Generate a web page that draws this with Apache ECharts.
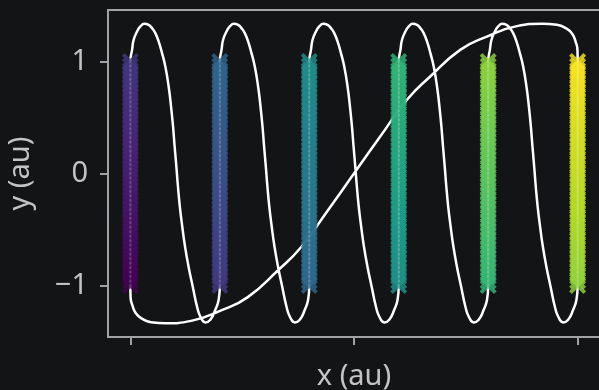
<!DOCTYPE html>
<html>
<head>
<meta charset="utf-8">
<script src="https://cdn.jsdelivr.net/npm/echarts@6/dist/echarts.min.js"></script>
<style>
  html, body { margin: 0; background: #131416; }
  #chart { width: 599px; height: 390px; }
</style>
</head>
<body>
<div id="chart"></div>
<script>
// columns of x markers
const columnX = [0, 1, 2, 3, 4, 5];
const markerY = [
  -1, -0.96, -0.92, -0.88, -0.84, -0.8, -0.76, -0.72, -0.68, -0.64,
  -0.6, -0.56, -0.52, -0.48, -0.44, -0.4, -0.36, -0.32, -0.28, -0.24,
  -0.2, -0.16, -0.12, -0.08, -0.04, 0, 0.04, 0.08, 0.12, 0.16,
  0.2, 0.24, 0.28, 0.32, 0.36, 0.4, 0.44, 0.48, 0.52, 0.56,
  0.6, 0.64, 0.68, 0.72, 0.76, 0.8, 0.84, 0.88, 0.92, 0.96, 1
];

// one loop of the white curve (top of a column -> bottom of the next)
const loopDX = [
  0, 0.019, 0.037, 0.075, 0.112, 0.156, 0.204, 0.242, 0.279, 0.316, 0.354, 0.391,
  0.428, 0.455, 0.477, 0.495, 0.514, 0.532, 0.553, 0.58, 0.611, 0.65, 0.697,
  0.745, 0.782, 0.838, 0.894, 0.95, 0.987, 1
];
const loopY = [
  1, 1.104, 1.194, 1.268, 1.313, 1.337, 1.328, 1.298, 1.254, 1.179, 1.075, 0.955,
  0.777, 0.598, 0.42, 0.241, 0.063, -0.116, -0.295, -0.473, -0.652, -0.83, -1.009,
  -1.188, -1.277, -1.33, -1.306, -1.217, -1.128, -1
];
// closing arc: top of the last column back to the bottom of the first
const closeX = [
  5, 4.998, 4.978, 4.939, 4.872, 4.768, 4.6, 4.321, 3.985, 3.687, 3.352, 3.092, 2.793,
  2.5,
  2.207, 1.908, 1.648, 1.313, 1.015, 0.679, 0.4, 0.232, 0.128, 0.061, 0.022, 0.002, 0
];
const closeY = [
  1, 1.104, 1.176, 1.248, 1.296, 1.328, 1.337, 1.316, 1.223, 1.104, 0.866, 0.658, 0.33,
  0,
  -0.33, -0.658, -0.866, -1.104, -1.223, -1.316, -1.337, -1.328, -1.296, -1.248, -1.176, -1.104, -1
];

const xTicks = [0, 2.5, 5];
const yTicks = [-1, 0, 1];

const viridis = ['#440154', '#482878', '#3e4989', '#31688e', '#26828e', '#1f9e89', '#35b779', '#6ece58', '#b5de2b', '#fde725'];

const axisColor = '#a3a3a3';
const textColor = '#c4c4c4';
const fontFamily = '"Noto Sans", "Open Sans", sans-serif';

const markerData = [];
columnX.forEach(x => markerY.forEach(y => markerData.push([x, y, markerData.length])));

// path: up column 1, loop to column 2, ... up column 6, arc back to start
const curveData = [[columnX[0], -1]];
columnX.slice(0, -1).forEach(x => loopDX.forEach((dx, i) => curveData.push([x + dx, loopY[i]])));
closeX.forEach((x, i) => curveData.push([x, closeY[i]]));

const xMarker = 'path://M0,2.5L2.5,0L8,5.5L13.5,0L16,2.5L10.5,8L16,13.5L13.5,16L8,10.5L2.5,16L0,13.5L5.5,8Z';

const axisLine = { show: true, onZero: false, lineStyle: { color: axisColor, width: 2 } };

const chart = echarts.init(document.getElementById('chart'));
chart.setOption({
  backgroundColor: '#131416',
  animation: false,
  grid: {
    left: 108, top: 10, width: 492, height: 327,
    outerBoundsMode: 'none', containLabel: false,
    show: true, borderColor: axisColor, borderWidth: 2
  },
  xAxis: {
    type: 'value', min: -0.25, max: 5.25,
    name: 'x (au)', nameLocation: 'middle', nameGap: 25,
    nameTextStyle: { color: textColor, fontSize: 29, fontFamily },
    axisLine,
    axisTick: { show: true, customValues: xTicks, length: 8, lineStyle: { color: axisColor, width: 2 } },
    axisLabel: { show: false },
    splitLine: { show: false }
  },
  yAxis: {
    type: 'value', min: -1.46, max: 1.46,
    name: 'y (au)', nameLocation: 'middle', nameGap: 73,
    nameTextStyle: { color: textColor, fontSize: 29, fontFamily },
    axisLine,
    axisTick: { show: true, customValues: yTicks, length: 8, lineStyle: { color: axisColor, width: 2 } },
    axisLabel: {
      customValues: yTicks, margin: 20, color: textColor, fontSize: 29, fontFamily,
      formatter: v => (v < 0 ? '\u2212' + Math.abs(v) : String(v))
    },
    splitLine: { show: false }
  },
  visualMap: {
    show: false, type: 'continuous', seriesIndex: 1, dimension: 2,
    min: 0, max: markerData.length - 1,
    inRange: { color: viridis }
  },
  series: [
    {
      type: 'line',
      z: 1,
      data: curveData,
      smooth: 0.5,
      symbol: 'none',
      silent: true,
      lineStyle: { color: '#ffffff', width: 2.5 }
    },
    {
      type: 'scatter',
      z: 3,
      data: markerData,
      symbol: xMarker,
      symbolSize: 17
    }
  ]
});
</script>
</body>
</html>
